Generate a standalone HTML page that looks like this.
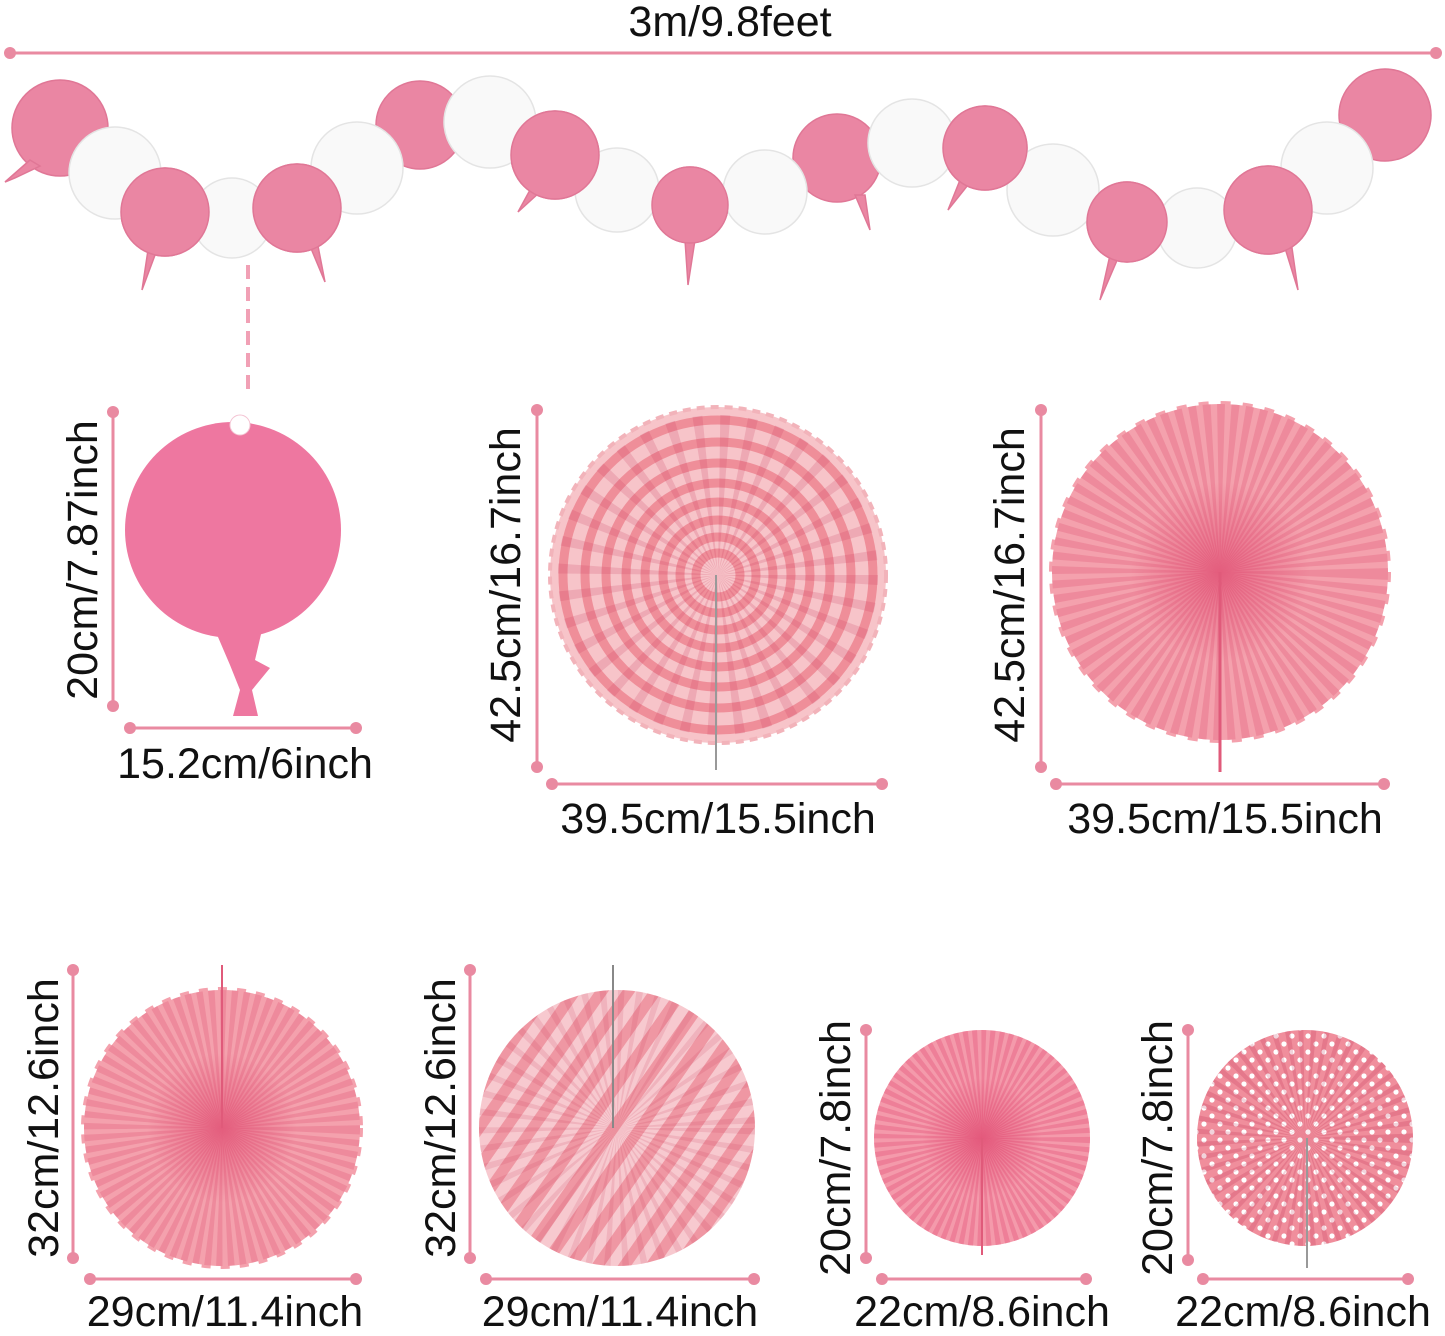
<!DOCTYPE html>
<html><head><meta charset="utf-8"><style>
html,body{margin:0;padding:0;background:#fff;}
svg{display:block;}
text{font-family:"Liberation Sans",sans-serif;fill:#111;font-size:43px;}
</style></head><body>
<svg width="1445" height="1336" viewBox="0 0 1445 1336" xmlns="http://www.w3.org/2000/svg">
<defs>
<pattern id="diag" width="22" height="22" patternUnits="userSpaceOnUse" patternTransform="rotate(35)">
<rect width="22" height="22" fill="#f7c9cf"/><rect width="11" height="22" fill="#ef97a3"/></pattern>
<pattern id="dots" width="16" height="16" patternUnits="userSpaceOnUse">
<rect width="16" height="16" fill="#f08e9c"/><circle cx="4" cy="4" r="2.6" fill="#fff"/><circle cx="12" cy="12" r="2.6" fill="#fff"/></pattern>
<radialGradient id="dk" cx="50%" cy="50%" r="50%"><stop offset="0" stop-color="#d9305e" stop-opacity=".55"/><stop offset="1" stop-color="#d9305e" stop-opacity="0"/></radialGradient>
</defs>

<!-- top dimension -->
<text x="730" y="36" text-anchor="middle" font-size="42">3m/9.8feet</text>
<line x1="10" y1="53" x2="1436" y2="53" stroke="#e98aa1" stroke-width="3"/>
<circle cx="10" cy="53" r="6" fill="#e98aa1"/><circle cx="1436" cy="53" r="6" fill="#e98aa1"/>

<!-- garland -->
<g stroke-width="1.5">
<g fill="#ea86a3" stroke="#e07796">
<circle cx="60" cy="128" r="48"/><path d="M30 160 L5 182 L15 178 L40 166Z"/>
<circle cx="165" cy="212" r="44"/><path d="M148 250 L142 290 L155 255Z"/>
<circle cx="297" cy="208" r="44"/><path d="M310 246 L325 282 L318 246Z"/>
<circle cx="420" cy="125" r="44"/>
<circle cx="555" cy="155" r="44"/><path d="M530 190 L518 212 L540 192Z"/>
<circle cx="690" cy="205" r="38"/><path d="M685 240 L688 285 L695 240Z"/>
<circle cx="837" cy="158" r="44"/><path d="M855 195 L870 230 L865 195Z"/>
<circle cx="985" cy="148" r="42"/><path d="M960 180 L948 210 L968 185Z"/>
<circle cx="1127" cy="222" r="40"/><path d="M1110 255 L1100 300 L1118 258Z"/>
<circle cx="1268" cy="210" r="44"/><path d="M1285 248 L1298 290 L1292 248Z"/>
<circle cx="1385" cy="115" r="46"/>
</g>
<g fill="#f9f9f9" stroke="#e4e4e4">
<circle cx="115" cy="173" r="46"/>
<circle cx="232" cy="218" r="40"/>
<circle cx="357" cy="168" r="46"/>
<circle cx="490" cy="122" r="46"/>
<circle cx="617" cy="190" r="42"/>
<circle cx="765" cy="192" r="42"/>
<circle cx="912" cy="143" r="44"/>
<circle cx="1053" cy="190" r="46"/>
<circle cx="1197" cy="228" r="40"/>
<circle cx="1327" cy="168" r="46"/>
</g>
<g fill="#ea86a3" stroke="#e07796">
<circle cx="165" cy="212" r="44"/>
<circle cx="297" cy="208" r="44"/>
<circle cx="555" cy="155" r="44"/>
<circle cx="690" cy="205" r="38"/>
<circle cx="985" cy="148" r="42"/>
<circle cx="1127" cy="222" r="40"/>
<circle cx="1268" cy="210" r="44"/>
</g>
</g>
<line x1="248" y1="265" x2="248" y2="395" stroke="#f1a0b5" stroke-width="4" stroke-dasharray="14 8"/>

<!-- big balloon -->
<circle cx="233" cy="530" r="108" fill="#ee77a0"/>
<path d="M215 630 L262 630 L255 660 L270 668 L252 690 L258 716 L233 716 L240 690 L230 665 Z" fill="#ee77a0"/>
<circle cx="240" cy="425" r="10" fill="#fff" stroke="#f4c4d3"/>
<line x1="113" y1="412" x2="113" y2="706" stroke="#e98aa1" stroke-width="3"/>
<circle cx="113" cy="412" r="6" fill="#e98aa1"/><circle cx="113" cy="706" r="6" fill="#e98aa1"/>
<line x1="130" y1="728" x2="356" y2="728" stroke="#e98aa1" stroke-width="3"/>
<circle cx="130" cy="728" r="6" fill="#e98aa1"/><circle cx="356" cy="728" r="6" fill="#e98aa1"/>
<text transform="translate(97,560) rotate(-90)" text-anchor="middle">20cm/7.87inch</text>
<text x="245" y="778" text-anchor="middle">15.2cm/6inch</text>

<!-- fan 2 striped rings -->
<g>
<circle cx="718" cy="575" r="168" fill="#f7c4c9" stroke="#f2b3ba" stroke-width="4" stroke-dasharray="8 6"/>
<g fill="none" stroke="#ef8e99" stroke-width="9">
<circle cx="718" cy="575" r="155"/><circle cx="718" cy="575" r="133"/><circle cx="718" cy="575" r="112"/>
<circle cx="718" cy="575" r="92"/><circle cx="718" cy="575" r="73"/><circle cx="718" cy="575" r="55"/>
<circle cx="718" cy="575" r="38"/><circle cx="718" cy="575" r="22"/></g>
<circle cx="718" cy="575" r="80" fill="none" stroke="#c93457" stroke-opacity=".18" stroke-width="160" stroke-dasharray="5 9"/>
<line x1="716" y1="575" x2="716" y2="770" stroke="#999" stroke-width="2"/>
</g>
<line x1="537" y1="410" x2="537" y2="767" stroke="#e98aa1" stroke-width="3"/>
<circle cx="537" cy="410" r="6" fill="#e98aa1"/><circle cx="537" cy="767" r="6" fill="#e98aa1"/>
<line x1="552" y1="784" x2="882" y2="784" stroke="#e98aa1" stroke-width="3"/>
<circle cx="552" cy="784" r="6" fill="#e98aa1"/><circle cx="882" cy="784" r="6" fill="#e98aa1"/>
<text transform="translate(520,585) rotate(-90)" text-anchor="middle">42.5cm/16.7inch</text>
<text x="718" y="833" text-anchor="middle">39.5cm/15.5inch</text>

<!-- fan 3 solid -->
<circle cx="1220" cy="572" r="168" fill="#f4a1ad" stroke="#f4a1ad" stroke-width="6" stroke-dasharray="10 12"/>
<circle cx="1220" cy="572" r="84" fill="none" stroke="#e66f87" stroke-opacity=".45" stroke-width="168" stroke-dasharray="4 3.3"/>
<circle cx="1220" cy="572" r="90" fill="url(#dk)"/>
<line x1="1220" y1="572" x2="1220" y2="772" stroke="#e05a7a" stroke-width="3"/>
<line x1="1041" y1="410" x2="1041" y2="767" stroke="#e98aa1" stroke-width="3"/>
<circle cx="1041" cy="410" r="6" fill="#e98aa1"/><circle cx="1041" cy="767" r="6" fill="#e98aa1"/>
<line x1="1056" y1="784" x2="1384" y2="784" stroke="#e98aa1" stroke-width="3"/>
<circle cx="1056" cy="784" r="6" fill="#e98aa1"/><circle cx="1384" cy="784" r="6" fill="#e98aa1"/>
<text transform="translate(1024,585) rotate(-90)" text-anchor="middle">42.5cm/16.7inch</text>
<text x="1225" y="833" text-anchor="middle">39.5cm/15.5inch</text>

<!-- fan 4 solid -->
<circle cx="222" cy="1128" r="138" fill="#f4a1ad" stroke="#f4a1ad" stroke-width="6" stroke-dasharray="9 10"/>
<circle cx="222" cy="1128" r="69" fill="none" stroke="#e66f87" stroke-opacity=".45" stroke-width="138" stroke-dasharray="3.3 2.7"/>
<circle cx="222" cy="1128" r="75" fill="url(#dk)"/>
<line x1="222" y1="965" x2="222" y2="1128" stroke="#e05a7a" stroke-width="2"/>
<line x1="73" y1="970" x2="73" y2="1258" stroke="#e98aa1" stroke-width="3"/>
<circle cx="73" cy="970" r="6" fill="#e98aa1"/><circle cx="73" cy="1258" r="6" fill="#e98aa1"/>
<line x1="90" y1="1279" x2="356" y2="1279" stroke="#e98aa1" stroke-width="3"/>
<circle cx="90" cy="1279" r="6" fill="#e98aa1"/><circle cx="356" cy="1279" r="6" fill="#e98aa1"/>
<text transform="translate(58,1118) rotate(-90)" text-anchor="middle">32cm/12.6inch</text>
<text x="225" y="1326" text-anchor="middle">29cm/11.4inch</text>

<!-- fan 5 diag stripes -->
<circle cx="617" cy="1128" r="138" fill="url(#diag)"/>
<circle cx="617" cy="1128" r="69" fill="none" stroke="#c93457" stroke-opacity=".15" stroke-width="138" stroke-dasharray="3.3 6"/>
<line x1="613" y1="965" x2="613" y2="1128" stroke="#888" stroke-width="2"/>
<line x1="470" y1="970" x2="470" y2="1258" stroke="#e98aa1" stroke-width="3"/>
<circle cx="470" cy="970" r="6" fill="#e98aa1"/><circle cx="470" cy="1258" r="6" fill="#e98aa1"/>
<line x1="486" y1="1279" x2="754" y2="1279" stroke="#e98aa1" stroke-width="3"/>
<circle cx="486" cy="1279" r="6" fill="#e98aa1"/><circle cx="754" cy="1279" r="6" fill="#e98aa1"/>
<text transform="translate(455,1118) rotate(-90)" text-anchor="middle">32cm/12.6inch</text>
<text x="620" y="1326" text-anchor="middle">29cm/11.4inch</text>

<!-- fan 6 small solid -->
<circle cx="982" cy="1138" r="108" fill="#f49aab"/>
<circle cx="982" cy="1138" r="54" fill="none" stroke="#e6577c" stroke-opacity=".4" stroke-width="108" stroke-dasharray="2.6 2.1"/>
<circle cx="982" cy="1138" r="60" fill="url(#dk)"/>
<line x1="982" y1="1138" x2="982" y2="1255" stroke="#e05a7a" stroke-width="2"/>
<line x1="866" y1="1030" x2="866" y2="1258" stroke="#e98aa1" stroke-width="3"/>
<circle cx="866" cy="1030" r="6" fill="#e98aa1"/><circle cx="866" cy="1258" r="6" fill="#e98aa1"/>
<line x1="882" y1="1279" x2="1086" y2="1279" stroke="#e98aa1" stroke-width="3"/>
<circle cx="882" cy="1279" r="6" fill="#e98aa1"/><circle cx="1086" cy="1279" r="6" fill="#e98aa1"/>
<text transform="translate(850,1148) rotate(-90)" text-anchor="middle">20cm/7.8inch</text>
<text x="982" y="1326" text-anchor="middle">22cm/8.6inch</text>

<!-- fan 7 dotted -->
<circle cx="1305" cy="1138" r="108" fill="url(#dots)"/>
<circle cx="1305" cy="1138" r="54" fill="none" stroke="#b8244b" stroke-opacity=".2" stroke-width="108" stroke-dasharray="2.6 4"/>
<line x1="1307" y1="1138" x2="1307" y2="1268" stroke="#999" stroke-width="2"/>
<line x1="1188" y1="1030" x2="1188" y2="1260" stroke="#e98aa1" stroke-width="3"/>
<circle cx="1188" cy="1030" r="6" fill="#e98aa1"/><circle cx="1188" cy="1260" r="6" fill="#e98aa1"/>
<line x1="1203" y1="1279" x2="1408" y2="1279" stroke="#e98aa1" stroke-width="3"/>
<circle cx="1203" cy="1279" r="6" fill="#e98aa1"/><circle cx="1408" cy="1279" r="6" fill="#e98aa1"/>
<text transform="translate(1172,1148) rotate(-90)" text-anchor="middle">20cm/7.8inch</text>
<text x="1303" y="1326" text-anchor="middle">22cm/8.6inch</text>
</svg>
</body></html>
